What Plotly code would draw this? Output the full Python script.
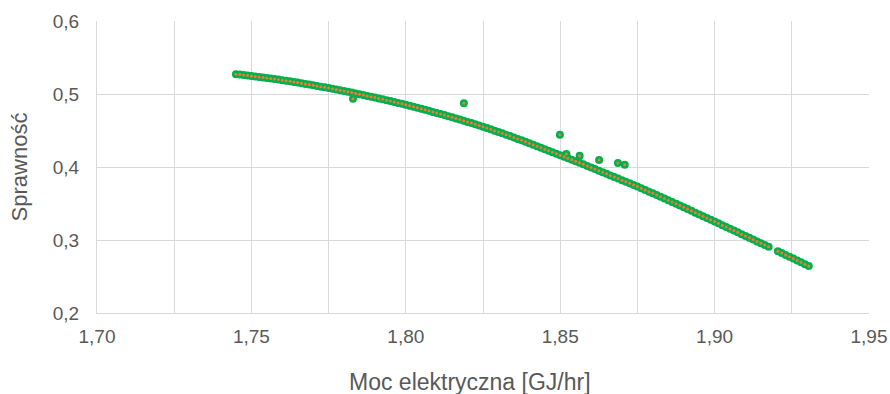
import plotly.graph_objects as go

# Main curve
x_main = [
    1.74500, 1.74625, 1.74750, 1.74875, 1.75000, 1.75125, 1.75250, 1.75375,
    1.75500, 1.75625, 1.75750, 1.75875, 1.76000, 1.76125, 1.76250, 1.76375,
    1.76500, 1.76625, 1.76750, 1.76875, 1.77000, 1.77125, 1.77250, 1.77375,
    1.77500, 1.77625, 1.77750, 1.77875, 1.78000, 1.78125, 1.78250, 1.78375,
    1.78500, 1.78625, 1.78750, 1.78875, 1.79000, 1.79125, 1.79250, 1.79375,
    1.79500, 1.79625, 1.79750, 1.79875, 1.80000, 1.80125, 1.80250, 1.80375,
    1.80500, 1.80625, 1.80750, 1.80875, 1.81000, 1.81125, 1.81250, 1.81375,
    1.81500, 1.81625, 1.81750, 1.81875, 1.82000, 1.82125, 1.82250, 1.82375,
    1.82500, 1.82625, 1.82750, 1.82875, 1.83000, 1.83125, 1.83250, 1.83375,
    1.83500, 1.83625, 1.83750, 1.83875, 1.84000, 1.84125, 1.84250, 1.84375,
    1.84500, 1.84625, 1.84750, 1.84875, 1.85000, 1.85125, 1.85250, 1.85375,
    1.85500, 1.85625, 1.85750, 1.85875, 1.86000, 1.86125, 1.86250, 1.86375,
    1.86500, 1.86625, 1.86750, 1.86875, 1.87000, 1.87125, 1.87250, 1.87375,
    1.87500, 1.87625, 1.87750, 1.87875, 1.88000, 1.88125, 1.88250, 1.88375,
    1.88500, 1.88625, 1.88750, 1.88875, 1.89000, 1.89125, 1.89250, 1.89375,
    1.89500, 1.89625, 1.89750, 1.89875, 1.90000, 1.90125, 1.90250, 1.90375,
    1.90500, 1.90625, 1.90750, 1.90875, 1.91000, 1.91125, 1.91250, 1.91375,
    1.91500, 1.91625, 1.91750,
    1.92050, 1.92175, 1.92300, 1.92425, 1.92550, 1.92675, 1.92800, 1.92925,
    1.93050,
]
y_main = [
    0.5272, 0.5266, 0.5260, 0.5253, 0.5247, 0.5240, 0.5233, 0.5226,
    0.5219, 0.5212, 0.5204, 0.5197, 0.5189, 0.5181, 0.5173, 0.5164,
    0.5156, 0.5147, 0.5138, 0.5129, 0.5120, 0.5111, 0.5101, 0.5092,
    0.5082, 0.5072, 0.5062, 0.5051, 0.5041, 0.5030, 0.5019, 0.5008,
    0.4997, 0.4986, 0.4974, 0.4963, 0.4951, 0.4939, 0.4927, 0.4915,
    0.4903, 0.4890, 0.4878, 0.4865, 0.4852, 0.4839, 0.4825, 0.4812,
    0.4798, 0.4784, 0.4770, 0.4755, 0.4741, 0.4726, 0.4711, 0.4696,
    0.4681, 0.4665, 0.4650, 0.4634, 0.4618, 0.4602, 0.4585, 0.4569,
    0.4552, 0.4534, 0.4516, 0.4498, 0.4480, 0.4461, 0.4442, 0.4423,
    0.4404, 0.4384, 0.4365, 0.4345, 0.4325, 0.4305, 0.4285, 0.4264,
    0.4244, 0.4223, 0.4203, 0.4182, 0.4162, 0.4141, 0.4120, 0.4099,
    0.4078, 0.4057, 0.4036, 0.4014, 0.3993, 0.3971, 0.3950, 0.3928,
    0.3907, 0.3885, 0.3863, 0.3842, 0.3820, 0.3798, 0.3776, 0.3754,
    0.3732, 0.3709, 0.3686, 0.3662, 0.3639, 0.3615, 0.3592, 0.3568,
    0.3544, 0.3520, 0.3496, 0.3472, 0.3448, 0.3424, 0.3399, 0.3375,
    0.3351, 0.3326, 0.3302, 0.3277, 0.3252, 0.3228, 0.3203, 0.3179,
    0.3154, 0.3129, 0.3105, 0.3080, 0.3055, 0.3030, 0.3006, 0.2981,
    0.2956, 0.2931, 0.2906,
    0.2846, 0.2821, 0.2795, 0.2770, 0.2745, 0.2720, 0.2694, 0.2669,
    0.2644,
]

# Scattered points off the curve
x_out = [1.7829, 1.8188, 1.8499, 1.8520, 1.8563, 1.8626, 1.8687, 1.8709]
y_out = [0.4936, 0.4873, 0.4442, 0.4178, 0.4155, 0.4096, 0.4055, 0.4032]

x_all = x_main + x_out
y_all = y_main + y_out

x_ticks = [1.70, 1.75, 1.80, 1.85, 1.90, 1.95]
y_ticks = [0.2, 0.3, 0.4, 0.5, 0.6]

GREEN = "#00B050"
ORANGE = "#ED7D31"
GRID = "#D9D9D9"
TEXT = "#595959"
FONT = "Liberation Sans, Arial, sans-serif"

fig = go.Figure()
fig.add_trace(go.Scatter(
    x=x_all, y=y_all, mode="markers",
    marker=dict(size=8, color=GREEN, line=dict(width=0)),
    showlegend=False, hoverinfo="skip",
))
fig.add_trace(go.Scatter(
    x=x_all, y=y_all, mode="markers",
    marker=dict(size=3, color=ORANGE, line=dict(width=0)),
    showlegend=False,
))

fig.update_layout(
    width=890, height=394,
    margin=dict(l=97, r=21, t=21, b=81),
    paper_bgcolor="white", plot_bgcolor="white",
    separators=", ",
    font=dict(family=FONT, size=19, color=TEXT),
    xaxis=dict(
        range=[1.70, 1.95], tickvals=x_ticks, tickformat=".2f",
        showgrid=True, gridcolor=GRID, gridwidth=1,
        minor=dict(dtick=0.025, tick0=1.70, showgrid=True, gridcolor=GRID, gridwidth=1),
        showline=True, linecolor=GRID, linewidth=1,
        zeroline=False, ticks="", ticklabelstandoff=6, automargin=False,
        tickfont=dict(family=FONT, size=19, color=TEXT),
    ),
    yaxis=dict(
        range=[0.2, 0.6], tickvals=y_ticks, tickformat=".1f",
        showgrid=True, gridcolor=GRID, gridwidth=1,
        showline=True, linecolor=GRID, linewidth=1,
        zeroline=False, ticks="", ticklabelstandoff=13, automargin=False,
        title=dict(text="Sprawność", standoff=19,
                   font=dict(family=FONT, size=22, color=TEXT)),
        tickfont=dict(family=FONT, size=19, color=TEXT),
    ),
    annotations=[dict(
        text="Moc elektryczna [GJ/hr]", xref="paper", yref="paper",
        x=0.483, y=-0.236, xanchor="center", yanchor="middle",
        showarrow=False, font=dict(family=FONT, size=23, color=TEXT),
    )],
)

fig.write_html("out.html")
